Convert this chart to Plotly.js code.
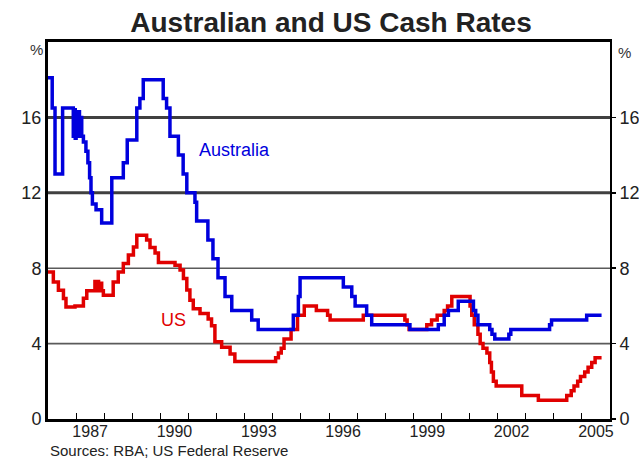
<!DOCTYPE html>
<html>
<head>
<meta charset="utf-8">
<script src="https://cdn.plot.ly/plotly-3.0.1.min.js"></script>
<style>html,body{margin:0;padding:0;background:#fff;}#chart{width:639px;height:460px;}</style>
</head>
<body>
<div id="chart"></div>
<script>
// Australian cash rate (step changes): decimal year, % rate
var ausYears = [1986.00, 1986.15, 1986.25, 1986.52, 1986.90, 1986.93, 1986.97, 1987.00, 1987.04, 1987.08, 1987.12, 1987.16, 1987.20, 1987.26, 1987.35, 1987.42, 1987.48, 1987.53, 1987.58, 1987.71, 1987.91, 1988.27, 1988.68, 1988.82, 1989.16, 1989.27, 1989.39, 1990.10, 1990.22, 1990.34, 1990.64, 1990.81, 1990.94, 1991.23, 1991.29, 1991.69, 1991.87, 1992.05, 1992.30, 1992.54, 1993.25, 1993.48, 1994.73, 1994.91, 1994.97, 1996.51, 1996.81, 1996.93, 1997.34, 1997.52, 1998.88, 1999.89, 2000.10, 2000.25, 2000.60, 2001.14, 2001.22, 2001.30, 2001.72, 2001.80, 2001.90, 2002.40, 2002.47, 2003.85, 2003.92, 2005.17, 2005.70];
var ausRates = [18.1, 16.5, 13.0, 16.5, 15.0, 16.4, 14.9, 16.2, 15.1, 16.3, 15.0, 16.0, 15.0, 14.7, 14.2, 13.6, 12.8, 12.0, 11.4, 11.1, 10.4, 12.8, 13.6, 14.8, 16.5, 17.0, 18.0, 17.0, 16.5, 15.0, 14.0, 13.0, 12.0, 11.5, 10.5, 9.5, 8.5, 7.5, 6.5, 5.75, 5.25, 4.75, 5.5, 6.5, 7.5, 7.0, 6.5, 6.0, 5.5, 5.0, 4.75, 5.0, 5.5, 5.75, 6.25, 5.75, 5.5, 5.0, 4.75, 4.5, 4.25, 4.5, 4.75, 5.0, 5.25, 5.5, 5.5];

// US federal funds rate (step changes): decimal year, % rate
var usYears = [1986.00, 1986.19, 1986.37, 1986.55, 1986.64, 1986.96, 1987.26, 1987.38, 1987.67, 1987.72, 1987.76, 1987.80, 1987.85, 1987.91, 1987.97, 1988.32, 1988.50, 1988.68, 1988.86, 1989.04, 1989.16, 1989.51, 1989.63, 1989.81, 1989.93, 1990.52, 1990.70, 1990.82, 1990.94, 1991.05, 1991.17, 1991.41, 1991.70, 1991.82, 1991.94, 1992.18, 1992.48, 1992.65, 1994.10, 1994.20, 1994.30, 1994.40, 1994.65, 1994.88, 1995.12, 1995.55, 1995.95, 1996.04, 1997.22, 1998.70, 1998.78, 1998.85, 1999.48, 1999.65, 1999.85, 2000.10, 2000.22, 2000.37, 2001.02, 2001.08, 2001.17, 2001.30, 2001.38, 2001.48, 2001.62, 2001.72, 2001.78, 2001.85, 2001.95, 2002.86, 2003.45, 2004.46, 2004.62, 2004.72, 2004.85, 2004.95, 2005.10, 2005.22, 2005.35, 2005.47, 2005.70];
var usRates = [7.8, 7.27, 6.83, 6.39, 5.94, 6.0, 6.4, 6.8, 7.3, 6.8, 7.3, 6.8, 7.2, 6.8, 6.56, 7.27, 7.8, 8.25, 8.7, 9.13, 9.75, 9.5, 9.1, 8.8, 8.3, 8.15, 7.9, 7.45, 6.85, 6.3, 5.85, 5.6, 5.3, 4.95, 4.1, 3.8, 3.45, 3.05, 3.25, 3.5, 3.75, 4.25, 4.75, 5.5, 6.0, 5.75, 5.5, 5.25, 5.5, 5.25, 5.0, 4.75, 5.0, 5.25, 5.5, 5.75, 6.0, 6.5, 6.0, 5.5, 5.0, 4.5, 4.0, 3.75, 3.5, 3.0, 2.5, 2.0, 1.75, 1.25, 1.0, 1.25, 1.5, 1.75, 2.0, 2.25, 2.5, 2.75, 3.0, 3.25, 3.25];

var yearTicks = [1987, 1988, 1989, 1990, 1991, 1992, 1993, 1994, 1995, 1996, 1997, 1998, 1999, 2000, 2001, 2002, 2003, 2004, 2005];
var labelYears = [1987, 1990, 1993, 1996, 1999, 2002, 2005];
var yTicks = [0, 4, 8, 12, 16];

var FONT = '"Liberation Sans", Arial, Helvetica, sans-serif';

var traces = [
  {x: usYears, y: usRates, type: 'scatter', mode: 'lines', line: {shape: 'hv', color: '#e00000', width: 3.5}, xaxis: 'x', yaxis: 'y', hoverinfo: 'skip'},
  {x: ausYears, y: ausRates, type: 'scatter', mode: 'lines', line: {shape: 'hv', color: '#0000dd', width: 3.5}, xaxis: 'x', yaxis: 'y2', hoverinfo: 'skip'}
];

var gridShapes = yTicks.filter(function(v){return v > 0;}).map(function(v){
  var thick = v >= 12;
  return {type: 'line', xref: 'paper', yref: 'y', x0: 0, x1: 1, y0: v, y1: v, layer: 'below',
          line: {color: thick ? '#404040' : '#5a5a5a', width: thick ? 3 : 1.6}};
});

var layout = {
  width: 639, height: 460,
  margin: {l: 48, r: 29, t: 42, b: 41},
  paper_bgcolor: '#ffffff', plot_bgcolor: '#ffffff',
  showlegend: false,
  font: {family: FONT, color: '#111'},
  title: {text: '<b>Australian and US Cash Rates</b>', font: {family: FONT, size: 28, color: '#222'},
          xref: 'container', x: 0.518, xanchor: 'center', yref: 'container', y: 0.952, yanchor: 'middle'},
  xaxis: {
    type: 'linear', range: [1986, 2006], fixedrange: true,
    tickmode: 'array', tickvals: labelYears.map(function(y){return y + 0.5;}),
    ticktext: labelYears.map(String), ticks: '', tickfont: {size: 16, color: '#222'},
    ticklabelstandoff: -4,
    minor: {tickmode: 'array', tickvals: yearTicks, ticks: 'inside', ticklen: 6, tickwidth: 1, tickcolor: '#000', showgrid: false},
    showgrid: false, zeroline: false,
    showline: true, linecolor: '#000', linewidth: 3, mirror: true
  },
  yaxis: {
    range: [0, 20], fixedrange: true,
    tickmode: 'array', tickvals: yTicks, ticktext: yTicks.map(String),
    ticks: '', tickfont: {size: 18, color: '#222'},
    showgrid: false, zeroline: false,
    showline: true, linecolor: '#000', linewidth: 3
  },
  yaxis2: {
    overlaying: 'y', side: 'right', anchor: 'x',
    range: [0, 20], fixedrange: true,
    tickmode: 'array', tickvals: yTicks, ticktext: yTicks.map(String),
    ticks: 'outside', ticklen: 4, tickwidth: 1.5, tickcolor: '#000',
    tickfont: {size: 18, color: '#222'},
    showgrid: false, zeroline: false,
    showline: true, linecolor: '#000', linewidth: 2
  },
  shapes: gridShapes,
  annotations: [
    {text: '%', xref: 'paper', yref: 'paper', x: -0.02, y: 0.981, xanchor: 'center', yanchor: 'middle', showarrow: false, font: {size: 15, color: '#333'}},
    {text: '%', xref: 'paper', yref: 'paper', x: 1.025, y: 0.972, xanchor: 'center', yanchor: 'middle', showarrow: false, font: {size: 15, color: '#333'}},
    {text: 'Australia', xref: 'x', yref: 'y', x: 1992.62, y: 14.26, xanchor: 'center', yanchor: 'middle', showarrow: false, font: {size: 18, color: '#0000dd'}},
    {text: 'US', xref: 'x', yref: 'y', x: 1990.48, y: 5.24, xanchor: 'center', yanchor: 'middle', showarrow: false, font: {size: 18, color: '#e00000'}},
    {text: 'Sources: RBA; US Federal Reserve', xref: 'paper', yref: 'paper', x: 0, y: -0.084, xanchor: 'left', yanchor: 'middle', showarrow: false, font: {size: 15, color: '#222'}}
  ]
};

Plotly.newPlot('chart', traces, layout, {staticPlot: true, displayModeBar: false});
</script>
</body>
</html>
